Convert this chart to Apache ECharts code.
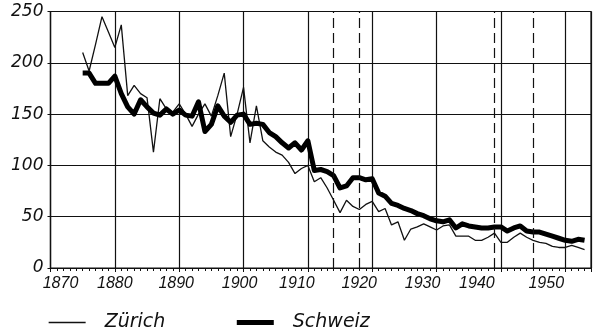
<!DOCTYPE html>
<html><head><meta charset="utf-8">
<script src="https://cdn.jsdelivr.net/npm/echarts@6/dist/echarts.min.js"></script>
<style>html,body{margin:0;padding:0;background:#fff}#c{width:594px;height:333px}</style>
</head><body><div id="c"></div>
<script>
const years = [1875,1876,1877,1878,1879,1880,1881,1882,1883,1884,1885,1886,1887,1888,1889,1890,1891,1892,1893,1894,1895,1896,1897,1898,1899,1900,1901,1902,1903,1904,1905,1906,1907,1908,1909,1910,1911,1912,1913,1914,1915,1916,1917,1918,1919,1920,1921,1922,1923,1924,1925,1926,1927,1928,1929,1930,1931,1932,1933,1934,1935,1936,1937,1938,1939,1940,1941,1942,1943,1944,1945,1946,1947,1948,1949,1950,1951,1952,1953];
const zurich = [210,192,218,245,230,215,237,168,178,170,166,113,165,155,152,160,150,138,150,160,148,168,190,128,150,176,122,158,124,118,113,110,103,92,97,100,84,88,78,66,54,66,60,57,62,65,55,58,42,45,27,38,40,43,40,37,41,42,31,31,31,27,27,30,34,25,25,30,34,30,27,25,24,21,20,20,22,20,18];
const schweiz = [190,190,180,180,180,187,170,157,150,164,157,151,149,155,150,154,149,148,162,133,140,158,148,142,149,150,140,141,140,132,128,122,117,122,115,124,95,96,94,90,78,80,88,88,86,87,73,70,63,61,58,56,53,51,48,46,45,47,39,43,41,40,39,39,40,40,36,39,41,36,35,35,33,31,29,27,26,28,27];
const eventYears = [1914, 1918, 1939, 1945];
const yTicks = [0, 50, 100, 150, 200, 250];
const xTicks = [1870,1880,1890,1900,1910,1920,1930,1940,1950];
const seriesNames = ['Zürich', 'Schweiz'];

// hand-lettered label shifts (px) seen in the original drawing
const labelShift = [10, 0, -3, -4, -11, -13, -14, -24, -19];
const FONT = '"DejaVu Sans", sans-serif';
const rich = {};
labelShift.forEach((s, i) => {
  rich['l' + i] = {
    fontFamily: 'Liberation Sans', fontStyle: 'italic', fontSize: 16, color: '#111',
    padding: s >= 0 ? [0, 0, 0, 2 * s] : [0, -2 * s, 0, 0]
  };
});

const chart = echarts.init(document.getElementById('c'), null, {renderer: 'canvas'});
chart.setOption({
  animation: false,
  backgroundColor: '#fff',
  grid: {left: 50.5, right: 2, top: 11.5, bottom: 65, show: true, borderColor: '#111', borderWidth: 1.2},
  xAxis: [{
    type: 'value', min: 1870, max: 1954, interval: 10,
    axisLine: {show: true, lineStyle: {color: '#111', width: 1.2}},
    axisTick: {show: true, length: 4, lineStyle: {color: '#111'}},
    axisLabel: {margin: 8, color: '#111', fontFamily: 'Liberation Sans', fontStyle: 'italic', fontSize: 16, rich: rich,
      formatter: v => { const i = xTicks.indexOf(v); return i >= 0 ? '{l' + i + '|' + v + '}' : ''; }},
    splitLine: {show: true, lineStyle: {color: '#111', width: 1.2}}
  }, {
    type: 'value', min: 1870, max: 1954, interval: 1, position: 'bottom',
    axisLine: {show: false}, axisLabel: {show: false}, splitLine: {show: false},
    axisTick: {show: true, length: 3, lineStyle: {color: '#111'}}
  }],
  yAxis: {
    type: 'value', min: 0, max: 250, interval: 50,
    axisLine: {show: true, lineStyle: {color: '#111', width: 1.2}},
    axisTick: {show: true, length: 3, lineStyle: {color: '#111'}},
    axisLabel: {margin: 7, color: '#111', fontFamily: FONT, fontStyle: 'italic', fontSize: 17,
      formatter: v => yTicks.indexOf(v) >= 0 ? String(v) : ''},
    splitLine: {show: true, lineStyle: {color: '#111', width: 1.2}}
  },
  legend: {
    left: 43, top: 308, itemWidth: 37, itemHeight: 14, itemGap: 69,
    data: [
      {name: seriesNames[0], lineStyle: {width: 1.3, color: '#111'}},
      {name: seriesNames[1], lineStyle: {width: 5, color: '#000'}}
    ],
    itemStyle: {opacity: 0},
    textStyle: {fontFamily: FONT, fontStyle: 'oblique', fontSize: 19, color: '#111', padding: [0, 0, 0, 14]}
  },
  series: [{
    name: seriesNames[0], type: 'line', showSymbol: false, symbol: 'none',
    data: years.map((y, i) => [y, zurich[i]]),
    lineStyle: {color: '#111', width: 1.3}, itemStyle: {color: '#111'}, z: 3
  }, {
    name: seriesNames[1], type: 'line', showSymbol: false, symbol: 'none',
    data: years.map((y, i) => [y, schweiz[i]]),
    lineStyle: {color: '#000', width: 5, join: 'round'}, itemStyle: {color: '#000'}, z: 4,
    markLine: {
      silent: true, symbol: ['none', 'none'], label: {show: false},
      lineStyle: {color: '#111', width: 1.2, type: [10, 5]},
      data: eventYears.map(y => ({xAxis: y}))
    }
  }]
});
</script></body></html>
